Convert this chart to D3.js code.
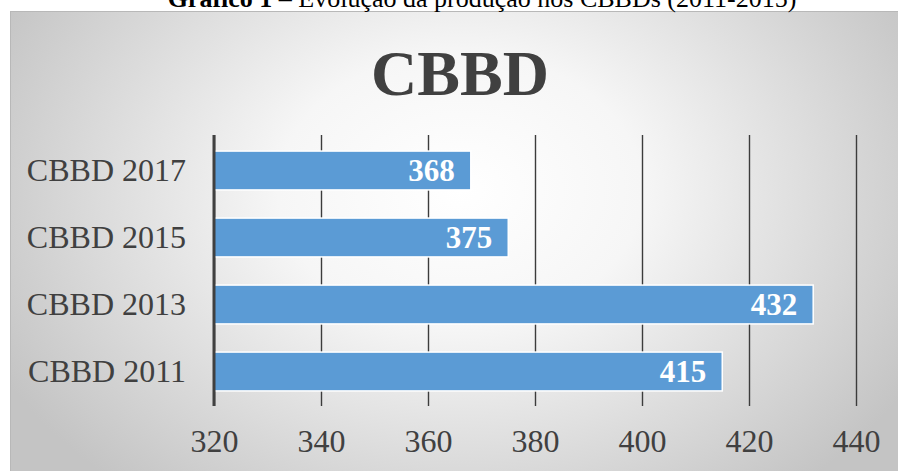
<!DOCTYPE html>
<html>
<head>
<meta charset="utf-8">
<script src="https://cdn.jsdelivr.net/npm/d3@7"></script>
<style>
  html, body { margin: 0; padding: 0; background: #ffffff; }
  svg { display: block; }
</style>
</head>
<body>
<svg id="chart" width="898" height="471"></svg>
<script>
const categories = ["CBBD 2017", "CBBD 2015", "CBBD 2013", "CBBD 2011"];
const values = [368, 375, 432, 415];
const tickValues = [320, 340, 360, 380, 400, 420, 440];
const chartTitle = "CBBD";
const captionBold = "Gráfico 1";
const captionRest = " – Evolução da produção nos CBBDs (2011-2015)";

const svg = d3.select("#chart");
const W = 898, H = 471;

// background gradient
const defs = svg.append("defs");
const grad = defs.append("radialGradient")
  .attr("id", "bg").attr("gradientUnits", "userSpaceOnUse")
  .attr("cx", 460).attr("cy", 190).attr("r", 520)
  .attr("gradientTransform", "translate(460,190) scale(1,0.75) translate(-460,-190)");
grad.append("stop").attr("offset", "0%").attr("stop-color", "#ffffff");
grad.append("stop").attr("offset", "35%").attr("stop-color", "#f6f6f6");
grad.append("stop").attr("offset", "100%").attr("stop-color", "#c4c4c4");

svg.append("rect").attr("x", 10.5).attr("y", 11.5).attr("width", W).attr("height", H)
  .attr("fill", "url(#bg)").attr("stroke", "#b8b8b8").attr("stroke-width", 1);

// caption (mostly cut off at top, as in the reference)
const cap = svg.append("text")
  .attr("x", 482).attr("y", 7)
  .attr("text-anchor", "middle")
  .attr("font-family", "Liberation Serif, serif")
  .attr("font-size", 26)
  .attr("fill", "#000");
cap.append("tspan").attr("font-weight", "bold").text(captionBold);
cap.append("tspan").text(captionRest);

// title
svg.append("text")
  .attr("x", 460).attr("y", 95)
  .attr("text-anchor", "middle")
  .attr("font-family", "Liberation Serif, serif")
  .attr("font-weight", "bold")
  .attr("font-size", 64)
  .attr("fill", "#404040")
  .text(chartTitle);

const x = d3.scaleLinear().domain([320, 440]).range([214, 856]);
const y = d3.scaleBand().domain(categories).range([137, 405])
  .paddingInner(0.42).paddingOuter(0.21);

const plotTop = 135, plotBottom = 406;

// gridlines via axis
const gx = svg.append("g").attr("transform", `translate(0,${plotBottom})`)
  .call(d3.axisBottom(x).tickValues(tickValues)
    .tickSize(-(plotBottom - plotTop)).tickPadding(23).tickFormat(d3.format("d")));
gx.select(".domain").remove();
gx.selectAll(".tick line").attr("stroke", "#3c3c3c").attr("stroke-width", 1.4);
gx.selectAll(".tick text")
  .attr("font-family", "Liberation Serif, serif")
  .attr("font-size", 32).attr("fill", "#404040")
  .attr("dy", "0.71em");

// bars
svg.append("g").selectAll("rect").data(categories).join("rect")
  .attr("x", x(320))
  .attr("y", d => y(d))
  .attr("width", (d, i) => x(values[i]) - x(320))
  .attr("height", y.bandwidth())
  .attr("fill", "#5b9bd5")
  .attr("stroke", "#ffffff").attr("stroke-width", 1.5);

// y axis line
svg.append("line")
  .attr("x1", x(320)).attr("x2", x(320))
  .attr("y1", plotTop).attr("y2", plotBottom)
  .attr("stroke", "#404040").attr("stroke-width", 3);

// category labels
const gy = svg.append("g").attr("transform", `translate(${x(320)},0)`)
  .call(d3.axisLeft(y).tickSize(0).tickPadding(28));
gy.select(".domain").remove();
gy.selectAll(".tick text")
  .attr("font-family", "Liberation Serif, serif")
  .attr("font-size", 32).attr("fill", "#404040");

// value labels
svg.append("g").selectAll("text").data(categories).join("text")
  .attr("x", (d, i) => x(values[i]) - 16)
  .attr("y", d => y(d) + y.bandwidth() / 2)
  .attr("dy", "0.35em")
  .attr("text-anchor", "end")
  .attr("font-family", "Liberation Serif, serif")
  .attr("font-weight", "bold")
  .attr("font-size", 31)
  .attr("fill", "#ffffff")
  .text((d, i) => values[i]);
</script>
</body>
</html>
